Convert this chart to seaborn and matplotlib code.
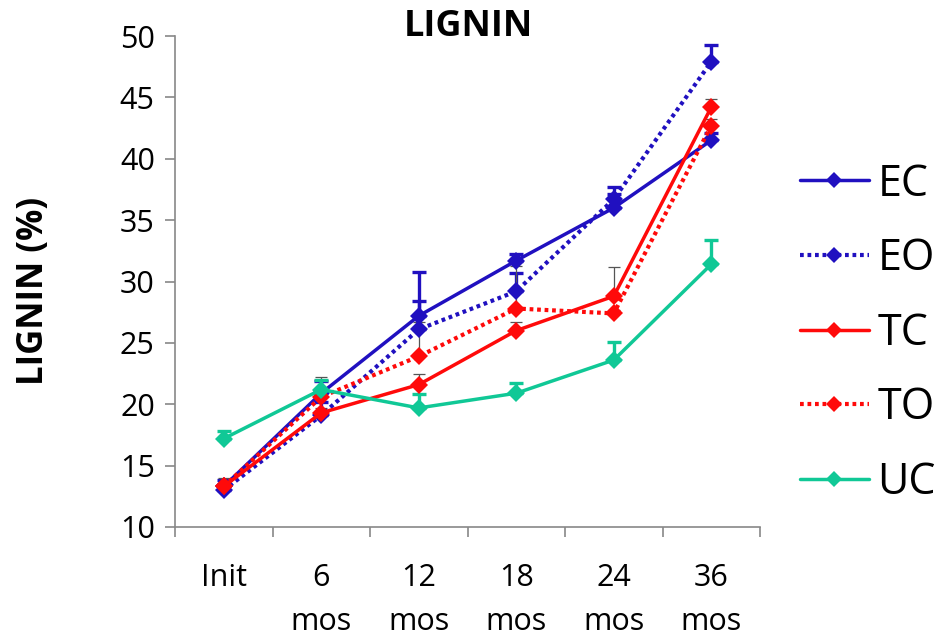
import numpy as np
import pandas as pd
import matplotlib
matplotlib.use("Agg")
import matplotlib.pyplot as plt
from matplotlib.lines import Line2D
from matplotlib.ticker import FixedLocator
import seaborn as sns

categories = ["Init", "6\nmos", "12\nmos", "18\nmos", "24\nmos", "36\nmos"]
series = ["EC", "EO", "TC", "TO", "UC"]
ec = [13.3, 20.9, 27.2, 31.7, 36.0, 41.5]
eo = [13.0, 19.1, 26.1, 29.2, 36.7, 47.9]
tc = [13.3, 19.3, 21.6, 26.0, 28.8, 44.2]
to = [13.3, 20.6, 23.9, 27.8, 27.4, 42.7]
uc = [17.2, 21.2, 19.7, 20.9, 23.6, 31.4]
ec_err = [0.5, 1.0, 3.6, 0.5, 1.1, 0.6]
eo_err = [0.4, 1.1, 2.3, 1.5, 1.0, 1.4]
tc_err = [0.7, 0.4, 0.9, 0.7, 2.4, 0.7]
to_err = [0.3, 1.6, 2.8, 3.5, 0.3, 0.5]
uc_err = [0.6, 0.8, 1.1, 0.8, 1.5, 2.0]
y_ticks = [10, 15, 20, 25, 30, 35, 40, 45, 50]

values = {"EC": ec, "EO": eo, "TC": tc, "TO": to, "UC": uc}
errors = {"EC": ec_err, "EO": eo_err, "TC": tc_err, "TO": to_err, "UC": uc_err}

BLUE = "#2010C0"
RED = "#FF0A0A"
TEAL = "#10C896"
colors = {"EC": BLUE, "EO": BLUE, "TC": RED, "TO": RED, "UC": TEAL}
dotted = (0, (0.9, 0.9))
styles = {"EC": "-", "EO": dotted, "TC": "-", "TO": dotted, "UC": "-"}
widths = {"EC": 2.5, "EO": 3.0, "TC": 2.5, "TO": 3.0, "UC": 2.5}
err_style = {
    "EC": dict(ecolor=BLUE, elinewidth=2.4, capsize=4.8, capthick=2.4),
    "EO": dict(ecolor=BLUE, elinewidth=2.4, capsize=4.8, capthick=2.4),
    "TC": dict(ecolor="#555555", elinewidth=0.9, capsize=4.0, capthick=0.9),
    "TO": dict(ecolor="#555555", elinewidth=0.9, capsize=4.0, capthick=0.9),
    "UC": dict(ecolor=TEAL, elinewidth=2.4, capsize=4.8, capthick=2.4),
}

rows = []
for s in series:
    for c, v in zip(categories, values[s]):
        rows.append({"cat": c, "val": v, "series": s})
df = pd.DataFrame(rows)

sns.set_theme(style="white")
plt.rcParams["font.family"] = ["Open Sans", "DejaVu Sans"]
plt.rcParams["text.color"] = "black"
plt.rcParams["xtick.color"] = "black"
plt.rcParams["ytick.color"] = "black"
plt.rcParams["axes.labelcolor"] = "black"

fig = plt.figure(figsize=(9.52, 6.38), dpi=100)
ax = fig.add_axes([175 / 952, 1 - 527 / 638, 585 / 952, 491 / 638])

xpos = np.arange(len(categories))
for s in series:
    sub = df[df["series"] == s]
    ax.errorbar(xpos, sub["val"].values,
                yerr=[np.zeros(len(xpos)), np.array(errors[s])],
                fmt="none", zorder=2, **err_style[s])
    sns.lineplot(data=sub, x="cat", y="val", ax=ax, color=colors[s],
                 linestyle=styles[s], linewidth=widths[s], marker="D",
                 markersize=9, markeredgewidth=0, sort=False, zorder=3)

ax.set_xlim(-0.5, len(categories) - 0.5)
ax.set_ylim(10, 50)
ax.set_yticks(y_ticks)
ax.set_xticks(xpos)
ax.set_xticklabels(categories, linespacing=1.62)
ax.xaxis.set_minor_locator(FixedLocator(np.arange(-0.5, len(categories), 1.0)))
ax.tick_params(axis="x", which="major", length=0, pad=26, labelsize=22,
               labelcolor="black")
ax.tick_params(axis="x", which="minor", length=7.5, width=1.2, color="#888888",
               direction="out", bottom=True)
ax.tick_params(axis="y", which="major", length=7.5, width=1.2, color="#888888",
               direction="out", left=True, pad=7, labelsize=22, labelcolor="black")
ax.set_xlabel("")
ax.set_ylabel("LIGNIN (%)", fontsize=25, fontweight="bold", color="black")
ax.yaxis.set_label_coords(-0.211, 0.48)
for side in ["top", "right"]:
    ax.spines[side].set_visible(False)
for side in ["left", "bottom"]:
    ax.spines[side].set_color("#888888")
    ax.spines[side].set_linewidth(1.2)
ax.grid(False)

fig.text(468 / 952, 1 - 27 / 638, "LIGNIN", fontsize=26, fontweight="bold",
         ha="center", va="center", color="black")

handles = [Line2D([0], [0], color=colors[s], linestyle=styles[s], linewidth=widths[s],
                  marker="D", markersize=8, markeredgewidth=0) for s in series]
fig.legend(handles, series, loc="upper left", bbox_to_anchor=(800 / 952, 1 - 162 / 638),
           frameon=False, fontsize=31, handlelength=1.6, handletextpad=0.2,
           labelspacing=0.7, borderaxespad=0, borderpad=0, labelcolor="black")

fig.savefig("out.png", dpi=100)
